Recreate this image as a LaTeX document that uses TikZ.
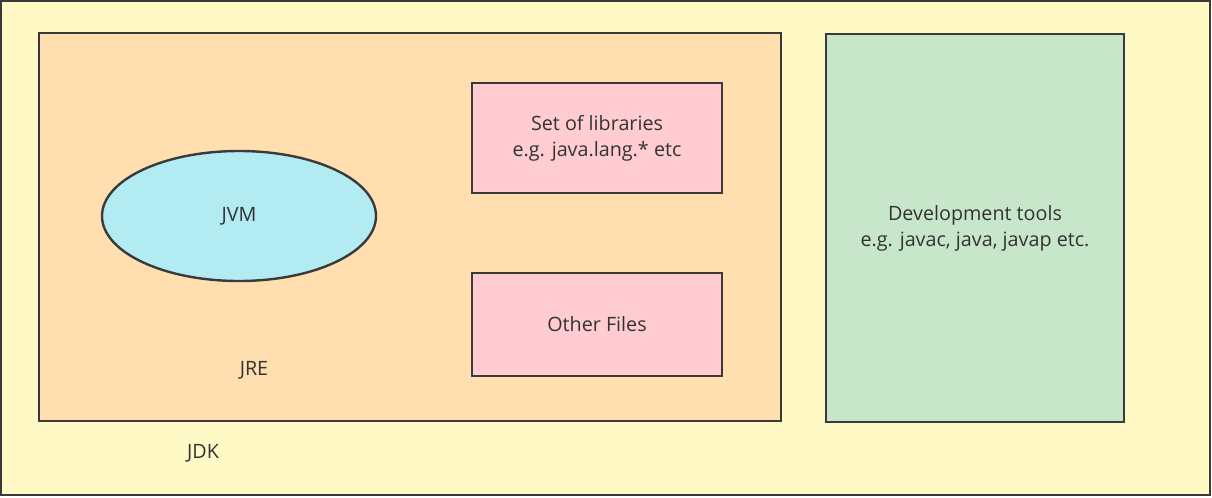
\documentclass[tikz,border=0pt]{standalone}
\usepackage{fontspec}
\setmainfont{Open Sans}
\usetikzlibrary{shapes}
\usetikzlibrary{positioning}

\definecolor{jdkcol}{HTML}{FFF9C6}
\definecolor{jrecol}{HTML}{FFDFB0}
\definecolor{devcol}{HTML}{C8E6CA}
\definecolor{libcol}{HTML}{FFCCD2}
\definecolor{jvmcol}{HTML}{B2EBF2}
\definecolor{linecol}{HTML}{3A3A3A}
\definecolor{textcol}{HTML}{333333}

\begin{document}
\begin{tikzpicture}[x=0.75pt,y=-0.75pt,
  box/.style={draw=linecol, line width=1.8pt, rectangle, inner sep=0pt, text=textcol, align=center, font=\fontsize{14.8}{19.5}\selectfont},
  oval/.style={box, ellipse},
  lbl/.style={text=textcol, inner sep=0pt, font=\fontsize{14.8}{19.5}\selectfont}]

  \def\u{0.75pt};

  \useasboundingbox (0,0) rectangle (1212,497);

  %outer boxes
  \node[box, fill=jdkcol, minimum width=1209*\u, minimum height=494*\u] (jdk) at (605.5,248) {};
  \node[box, fill=jrecol, minimum width=742*\u, minimum height=388*\u] (jre) at (410,227) {};
  \node[box, fill=devcol, minimum width=298*\u, minimum height=388*\u] (dev) at (975,228) {Development tools\\e.g. javac, java, javap etc.};

  %inside the JRE
  \node[oval, fill=jvmcol, minimum width=274*\u, minimum height=130*\u] (jvm) at (239,216) {JVM};
  \node[box, fill=libcol, minimum width=250*\u, minimum height=110*\u] (libs) at (597,138) {Set of libraries\\e.g. java.lang.* etc};
  \node[box, fill=libcol, minimum width=250*\u, minimum height=103*\u] (other) at (597,324.5) {Other Files};

  %labels
  \node[lbl] (jrename) at (254,370) {JRE};
  \node[lbl] (jdkname) at (203,453) {JDK};

\end{tikzpicture}
\end{document}
